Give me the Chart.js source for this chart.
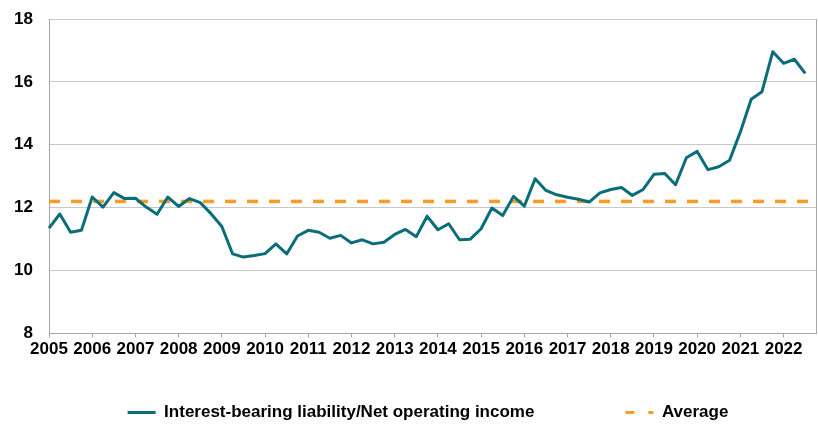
<!DOCTYPE html>
<html>
<head>
<meta charset="utf-8">
<script src="https://cdn.jsdelivr.net/npm/chart.js@4"></script>
<style>
html, body { margin: 0; padding: 0; background: #ffffff; }
#wrap { width: 818px; height: 424px; position: relative; }
</style>
</head>
<body>
<div id="wrap"><canvas id="c" width="818" height="424"></canvas></div>
<script>
const years = [2005, 2006, 2007, 2008, 2009, 2010, 2011, 2012, 2013, 2014, 2015, 2016, 2017, 2018, 2019, 2020, 2021, 2022];
const quarterNames = ['Q1', 'Q2', 'Q3', 'Q4'];
const categories = years.flatMap(y => quarterNames.map(q => y + q));

const ratioSeries = [
  11.35, 11.80, 11.22, 11.28,
  12.34, 12.02, 12.48, 12.29,
  12.30, 12.02, 11.79, 12.34,
  12.04, 12.29, 12.16, 11.81,
  11.40, 10.53, 10.43, 10.48,
  10.54, 10.85, 10.53, 11.10,
  11.28, 11.22, 11.03, 11.12,
  10.88, 10.98, 10.85, 10.90,
  11.15, 11.31, 11.08, 11.73,
  11.30, 11.49, 10.98, 11.00,
  11.33, 11.99, 11.75, 12.36,
  12.05, 12.92, 12.55, 12.41,
  12.33, 12.27, 12.18, 12.47,
  12.58, 12.64, 12.39, 12.58,
  13.06, 13.09, 12.73, 13.59,
  13.79, 13.21, 13.30, 13.51,
  14.41, 15.45, 15.69, 16.96,
  16.59, 16.72, 16.27
];
const averageValue = 12.2;
const yTicks = [8, 10, 12, 14, 16, 18];
const seriesNames = ['Interest-bearing liability/Net operating income', 'Average'];

const TEAL = '#0A6D79';
const ORANGE = '#F59D24';
const FONT = { family: "'Liberation Sans', Arial, sans-serif", size: 17, weight: 'bold' };

const legendPlacement = {
  id: 'legendPlacement',
  afterLayout(chart) {
    const lg = chart.legend;
    if (!lg) return;
    const pad = lg.options.labels.padding;
    lg.top = 412.5 - 8.5 - pad;
    lg.bottom = 424;
    lg.height = lg.bottom - lg.top;
    lg.left += 19.5;
    lg.right += 19.5;
    lg.width = lg.right - lg.left;
  }
};

new Chart(document.getElementById('c'), {
  type: 'line',
  data: {
    labels: categories,
    datasets: [
      {
        label: seriesNames[0],
        data: ratioSeries,
        borderColor: TEAL,
        backgroundColor: TEAL,
        borderWidth: 3,
        borderJoinStyle: 'round',
        pointRadius: 0,
        tension: 0,
        fill: false
      },
      {
        label: seriesNames[1],
        data: [
          { x: categories[0], y: averageValue },
          { x: categories[categories.length - 1], y: averageValue }
        ],
        borderColor: ORANGE,
        backgroundColor: ORANGE,
        borderWidth: 3.5,
        borderDash: [11, 11],
        pointRadius: 0,
        tension: 0,
        fill: false
      }
    ]
  },
  options: {
    responsive: false,
    animation: false,
    devicePixelRatio: 1,
    layout: { padding: { left: 0, right: 1, top: 19, bottom: 0 } },
    plugins: {
      tooltip: { enabled: false },
      legend: {
        display: true,
        position: 'bottom',
        maxHeight: 50.5,
        labels: {
          color: '#000000',
          font: FONT,
          usePointStyle: true,
          pointStyleWidth: 28,
          padding: 91,
          generateLabels(chart) {
            const items = Chart.defaults.plugins.legend.labels.generateLabels(chart);
            items.forEach(it => { it.pointStyle = 'line'; it.lineWidth = 3; it.lineCap = 'butt'; });
            if (items[1]) items[1].lineDash = [9, 14, 5, 14];
            return items;
          }
        }
      }
    },
    scales: {
      x: {
        type: 'category',
        offset: false,
        afterFit(scale) { scale.height = 40; },
        grid: {
          drawOnChartArea: false,
          drawTicks: true,
          tickLength: 4,
          offset: false,
          color: ctx => (ctx.index % 4 === 0 ? '#A6A6A6' : 'rgba(0,0,0,0)')
        },
        border: { display: true, color: '#A6A6A6', width: 1 },
        ticks: {
          autoSkip: false,
          maxRotation: 0,
          minRotation: 0,
          padding: 2,
          color: '#000000',
          font: FONT,
          callback(value, index) {
            const lab = this.getLabelForValue(value);
            return index % 4 === 0 ? String(lab).slice(0, 4) : '';
          }
        }
      },
      y: {
        min: yTicks[0],
        max: yTicks[yTicks.length - 1],
        afterFit(scale) { scale.width = 49; scale.paddingTop = 0; scale.paddingBottom = 0; },
        afterBuildTicks(scale) { scale.ticks = yTicks.map(v => ({ value: v })); },
        grid: { color: '#C8C8C8', lineWidth: 1, drawTicks: false },
        border: { display: true, color: '#A6A6A6', width: 1 },
        ticks: { padding: 16, color: '#000000', font: FONT }
      },
      yRight: {
        position: 'right',
        min: yTicks[0],
        max: yTicks[yTicks.length - 1],
        afterFit(scale) { scale.paddingTop = 0; scale.paddingBottom = 0; },
        grid: { display: false, drawTicks: false },
        border: { display: true, color: '#A6A6A6', width: 1 },
        ticks: { display: false }
      }
    }
  },
  plugins: [legendPlacement]
});
</script>
</body>
</html>
